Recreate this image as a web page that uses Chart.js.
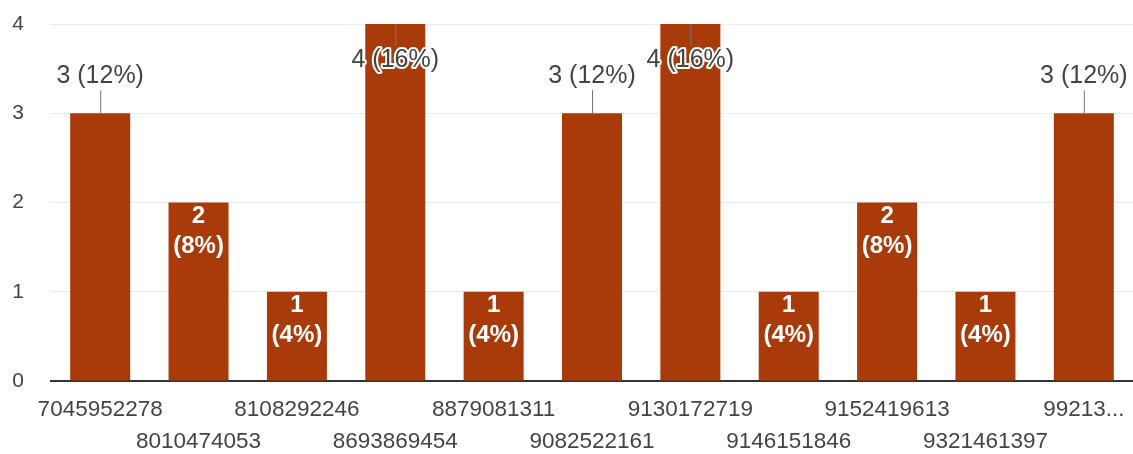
<!DOCTYPE html>
<html>
<head>
<meta charset="utf-8">
<script src="https://cdn.jsdelivr.net/npm/chart.js@4/dist/chart.umd.min.js"></script>
<style>
  html, body { margin: 0; padding: 0; background: #fff; }
  #wrap { width: 1133px; height: 454px; }
</style>
</head>
<body>
<div id="wrap"><canvas id="respChart"></canvas></div>
<script>
// phone numbers as shown under the bars
const labels = [
    '7045952278', '8010474053', '8108292246', '8693869454',
    '8879081311', '9082522161', '9130172719', '9146151846',
    '9152419613', '9321461397', '99213...'
];
const counts = [3, 2, 1, 4, 1, 3, 4, 1, 2, 1, 3];
const yTicks = [0, 1, 2, 3, 4];

const total = counts.reduce((a, b) => a + b, 0);
const barColor = '#a93b0b';
const fontFamily = "'Liberation Sans', Arial, sans-serif";

// google forms style value labels: inside the short bars, above (or hanging into) the tall ones
const valueLabels = {
    id: 'valueLabels',
    afterDatasetsDraw(chart) {
        const ctx = chart.ctx;
        const meta = chart.getDatasetMeta(0);
        ctx.save();
        ctx.textAlign = 'center';
        ctx.textBaseline = 'middle';
        meta.data.forEach((bar, i) => {
            const v = counts[i];
            const pct = Math.round(v / total * 100) + '%';
            const x = bar.x;
            const top = bar.y;
            if (v <= 2) {
                ctx.font = 'bold 24px ' + fontFamily;
                ctx.fillStyle = '#fff';
                ctx.fillText(String(v), x, top + 14);
                ctx.fillText('(' + pct + ')', x, top + 44);
                return;
            }
            const text = v + ' (' + pct + ')';
            let ty, l1, l2;
            if (top - 50 > chart.chartArea.top) {
                ty = top - 37; l1 = top - 23; l2 = top;
            } else {
                ty = top + 36; l1 = top; l2 = top + 22;
            }
            ctx.strokeStyle = '#777';
            ctx.lineWidth = 1;
            ctx.beginPath();
            ctx.moveTo(x + 0.5, l1);
            ctx.lineTo(x + 0.5, l2);
            ctx.stroke();
            ctx.font = '25px ' + fontFamily;
            ctx.lineWidth = 4;
            ctx.lineJoin = 'round';
            ctx.strokeStyle = '#fff';
            ctx.strokeText(text, x, ty);
            ctx.fillStyle = '#444';
            ctx.fillText(text, x, ty);
        });
        ctx.restore();
    }
};

new Chart(document.getElementById('respChart'), {
    type: 'bar',
    data: {
        labels: labels,
        datasets: [{
            data: counts,
            backgroundColor: barColor,
            borderWidth: 0,
            categoryPercentage: 1,
            barPercentage: 0.61
        }]
    },
    options: {
        responsive: true,
        maintainAspectRatio: false,
        animation: false,
        layout: { padding: { top: 24, right: 0, left: 0, bottom: 0 } },
        plugins: {
            legend: { display: false },
            tooltip: { enabled: false }
        },
        scales: {
            x: {
                grid: { display: false },
                border: { display: true, color: '#333', width: 2 },
                ticks: {
                    autoSkip: false,
                    maxRotation: 0,
                    minRotation: 0,
                    padding: 5,
                    color: '#444',
                    font: { family: fontFamily, size: 22.5, lineHeight: 1.42 },
                    callback: function (val, i) {
                        const l = this.getLabelForValue(val);
                        return i % 2 ? ['', l] : [l, ''];
                    }
                },
                afterFit: (s) => { s.height = 73; }
            },
            y: {
                min: 0,
                max: 4,
                afterBuildTicks: (s) => { s.ticks = yTicks.map(v => ({ value: v })); },
                grid: {
                    drawTicks: false,
                    color: (c) => c.tick && c.tick.value === 0 ? 'rgba(0,0,0,0)' : '#ebebeb'
                },
                border: { display: false },
                ticks: {
                    padding: 27,
                    color: '#444',
                    font: { family: fontFamily, size: 21 }
                },
                afterFit: (s) => {
                    s.width = 51;
                    s.paddingTop = 0;
                    s.paddingBottom = 0;
                }
            }
        }
    },
    plugins: [valueLabels]
});
</script>
</body>
</html>
